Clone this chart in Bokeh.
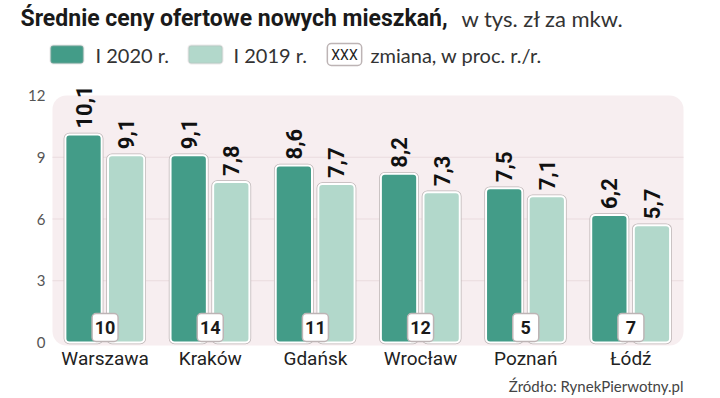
import math
from bokeh.plotting import figure
from bokeh.models import ColumnDataSource, Label, BoxAnnotation, Range1d
from bokeh.transform import dodge
from bokeh.core.properties import value
from bokeh.embed import file_html
from bokeh.resources import INLINE

# ---- data ----
cities = ["Warszawa", "Kraków", "Gdańsk", "Wrocław", "Poznań", "Łódź"]
prices_2020 = [10.1, 9.1, 8.6, 8.2, 7.5, 6.2]
prices_2019 = [9.1, 7.8, 7.7, 7.3, 7.1, 5.7]
change_pct = [10, 14, 11, 12, 5, 7]
y_ticks = [0, 3, 6, 9, 12]

DARK = "#439c88"
LIGHT = "#b2d8cb"
SHADOW = "#bdb4b5"
PANEL = "#f7eef0"

# ---- layout (page pixels) ----
W, H = 712, 396
PX_L, PX_R, PX_T, PX_B = 52, 683, 95, 342      # chart panel edges
N = len(cities)
U = (PX_R - PX_L) / N                           # px per category
V = (PX_B - PX_T) / y_ticks[-1]                 # px per unit
BOX_W, BOX_H, BOX_GAP = 26, 28, 1               # change-box size in px

def sx(x):
    return x
def sy(y):
    return H - y

fmt = lambda v: f"{v:.1f}".replace(".", ",")
src = ColumnDataSource(dict(
    xc=[i + 0.5 for i in range(N)], city=cities,
    p2020=prices_2020, p2019=prices_2019,
    t2020=[fmt(v) for v in prices_2020], t2019=[fmt(v) for v in prices_2019],
    chg=[str(c) for c in change_pct], zero=[0] * N,
))

p = figure(width=W, height=H,
           x_range=Range1d(-PX_L / U, (W - PX_L) / U),
           y_range=Range1d(-(H - PX_B) / V, PX_B / V),
           output_backend="svg", toolbar_location=None,
           x_axis_location=None, y_axis_location=None,
           min_border=0, min_border_left=0, min_border_right=0,
           min_border_top=0, min_border_bottom=0)
p.outline_line_color = None
p.background_fill_color = "white"
p.border_fill_color = "white"
p.grid.visible = False

# panel background
p.add_layout(BoxAnnotation(left=0, right=N, bottom=-3 / V, top=y_ticks[-1],
                           fill_color=PANEL, fill_alpha=1, line_alpha=0,
                           border_radius=14, level="image"))

# gridlines
inner = y_ticks[1:-1]
p.segment(x0=[0] * len(inner), x1=[N] * len(inner), y0=inner, y1=inner,
          line_color="#eadbde", line_width=1)

# y tick labels
p.text(x=0, y=y_ticks, text=[str(t) for t in y_ticks], x_offset=-7,
       text_align="right", text_baseline="middle",
       text_font=value("Lato"), text_font_size="15px", text_color="#555555")

# category labels
p.text(x="xc", y="zero", text="city", source=src, y_offset=16,
       text_align="center", text_baseline="middle",
       text_font=value("Roboto"), text_font_size="19px", text_color="#222222")

# bars
x20 = dodge("xc", -0.205)
x19 = dodge("xc", 0.2)
for x, top, col in [(x20, "p2020", DARK), (x19, "p2019", LIGHT)]:
    p.vbar(x=x, top=top, width=0.345, source=src, fill_color=col,
           line_color=SHADOW, line_width=3.5, border_radius=4)
    p.vbar(x=x, top=top, width=0.345, source=src, fill_color=col,
           line_color="white", line_width=2, border_radius=4)

# value labels
for x, t, y in [(x20, "t2020", "p2020"), (x19, "t2019", "p2019")]:
    p.text(x=x, y=y, text=t, source=src, angle=math.pi / 2,
           text_align="left", text_baseline="middle", y_offset=-6,
           text_font=value("Roboto"), text_font_style="bold",
           text_font_size="22px", text_color="#111111")

# change boxes
p.block(x=dodge("xc", -BOX_W / 2 / U), y=BOX_GAP / V, width=BOX_W / U, height=BOX_H / V,
        source=src, fill_color="white", line_color=SHADOW, line_width=1.5,
        border_radius=4)
p.text(x="xc", y="zero", text="chg", source=src, text_align="center",
       text_baseline="middle", y_offset=-(BOX_GAP + BOX_H / 2),
       text_font=value("Roboto"), text_font_style="bold", text_font_size="18px",
       text_color="#1a1a1a")

# ---- title ----
p.add_layout(Label(x=sx(20), y=sy(18), x_units="screen", y_units="screen",
                   text="Średnie ceny ofertowe nowych mieszkań,", text_baseline="middle",
                   text_font="Roboto", text_font_style="bold", text_font_size="23px",
                   text_color="#1a1a1a"))
p.add_layout(Label(x=sx(461), y=sy(18), x_units="screen", y_units="screen",
                   text="w tys. zł za mkw.", text_baseline="middle",
                   text_font="Lato", text_font_size="22px", text_color="#333333"))

# ---- legend ----
for l, r, col in [(50, 83, DARK), (188, 222, LIGHT)]:
    p.add_layout(BoxAnnotation(left=sx(l), right=sx(r), top=sy(45), bottom=sy(63),
                               left_units="screen", right_units="screen",
                               top_units="screen", bottom_units="screen",
                               fill_color=col, fill_alpha=1, line_color=SHADOW,
                               line_width=2, border_radius=3))
for x, t in [(95, "I  2020 r."), (233, "I 2019 r."), (370, "zmiana, w proc. r./r.")]:
    p.add_layout(Label(x=sx(x), y=sy(54), x_units="screen", y_units="screen", text=t,
                       text_baseline="middle", text_font="Lato", text_font_size="20px",
                       text_color="#333333"))
p.add_layout(Label(x=sx(344), y=sy(54), x_units="screen", y_units="screen", text="XXX",
                   text_align="center", text_baseline="middle", text_font="Roboto",
                   text_font_size="14px", text_color="#222222",
                   background_fill_color="white", border_line_color=SHADOW,
                   border_line_width=1.5, padding=(4, 3), border_radius=4))

# ---- source ----
p.add_layout(Label(x=sx(683), y=sy(385), x_units="screen", y_units="screen",
                   text="Źródło: RynekPierwotny.pl", text_align="right", text_baseline="middle",
                   text_font="Lato", text_font_size="15px", text_color="#444444"))

open("out.html", "w").write(file_html(p, INLINE))
